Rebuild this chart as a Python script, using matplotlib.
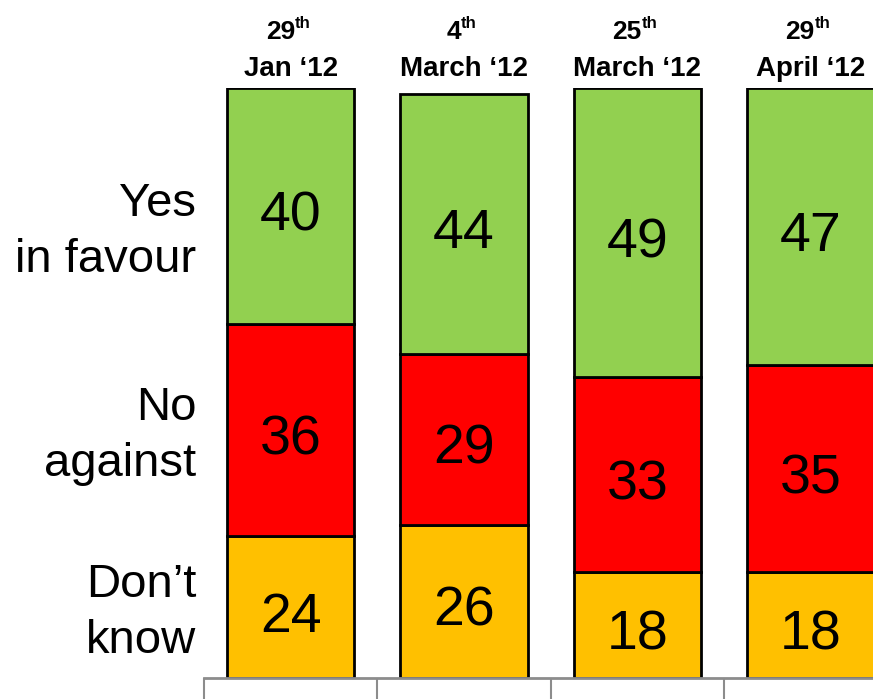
import matplotlib
matplotlib.use("Agg")
import numpy as np
from matplotlib import pyplot as plt

# survey dates (day, superscript, month line)
days = ["29", "4", "25", "29"]
months = ["Jan \u201812", "March \u201812", "March \u201812", "April \u201812"]

# answers, bottom to top
dont_know = [24, 26, 18, 18]
no_against = [36, 29, 33, 35]
yes_favour = [40, 44, 49, 47]

series = [
    ("Don\u2019t\nknow", dont_know, "#FFC000", 11.0),
    ("No\nagainst", no_against, "#FF0000", 41.0),
    ("Yes\nin favour", yes_favour, "#92D050", 75.6),
]

narrow = ["Liberation Sans Narrow", "Liberation Sans", "DejaVu Sans"]
plain = ["Liberation Sans", "DejaVu Sans"]

fig = plt.figure(figsize=(8.73, 6.99), dpi=100)
ax = fig.add_axes([0.2337, 0.030, 0.7663, 0.844])

x = np.arange(len(days))
bottom = np.zeros(len(days))
for name, vals, color, label_y in series:
    vals = np.array(vals, dtype=float)
    ax.bar(x, vals, width=0.735, bottom=bottom, color=color,
           edgecolor="black", linewidth=2, zorder=2)
    for xi, b, v in zip(x, bottom, vals):
        ax.text(xi, b + v / 2 - 1.8, f"{int(v)}", ha="center", va="center",
                fontsize=40, family=narrow, zorder=3)
    # row label on the left
    ax.text(-0.545, label_y, name, ha="right", va="center",
            fontsize=34, family=plain, linespacing=1.35, clip_on=False)
    bottom = bottom + vals

# column headers with superscript "th"
for xi, d, m in zip(x, days, months):
    ax.text(xi, 102.0, m, ha="center", va="baseline", fontsize=20,
            fontweight="bold", family=narrow, clip_on=False)
    t = ax.text(xi - 0.06, 108.3, d, ha="center", va="baseline", fontsize=19,
                fontweight="bold", family=narrow, clip_on=False)
    ax.annotate("th", xy=(1.0, 0.55), xycoords=t, ha="left", va="bottom",
                fontsize=12, fontweight="bold", family=narrow,
                annotation_clip=False)

for side in ["top", "right", "left"]:
    ax.spines[side].set_visible(False)
ax.spines["bottom"].set_color("#8C8C8C")
ax.spines["bottom"].set_linewidth(2)
ax.set_yticks([])
ax.set_xticks(np.arange(-0.5, 3.6, 1.0))
ax.set_xticklabels([])
ax.tick_params(axis="x", direction="out", length=25, width=1.5,
               color="#8C8C8C")
ax.set_xlim(-0.5, 3.36)
ax.set_ylim(0, 100)

fig.savefig("out.png", dpi=100)
